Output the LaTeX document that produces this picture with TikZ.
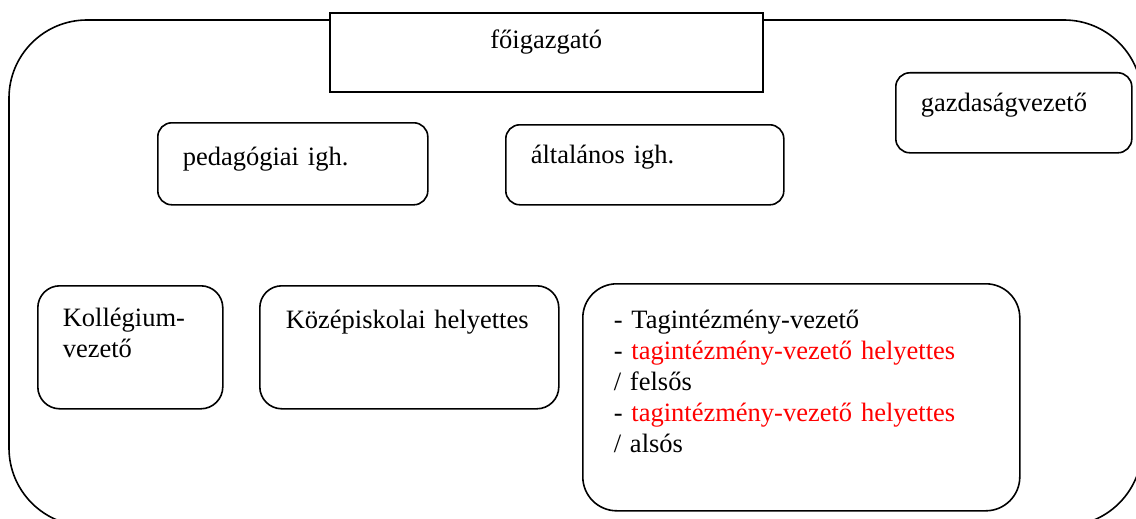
\documentclass[tikz,border=0pt]{standalone}
\usepackage{fontspec}
\setmainfont{Liberation Serif}
\begin{document}
\begin{tikzpicture}[x=1pt, y=-1pt,
    doboz/.style={draw, line width=1.6pt, rounded corners=14pt, anchor=north west,
      align=left, inner ysep=0pt, inner xsep=25pt,
      font=\fontsize{26.5}{31}\selectfont},
    keret/.style={draw, line width=1.6pt, rounded corners=78pt}]
    \useasboundingbox (0,0) rectangle (1136,519);
    \clip (0,0) rectangle (1136,519);
    % Külső keret
    \draw[keret] (9,20) rectangle (1142,526);
    % Főigazgató - felül, szögletes
    \node at (329,12) (foig) [doboz, rounded corners=0pt, fill=white, align=center,
      inner xsep=0pt, text width=433pt, text height=36pt, text depth=43pt] {főigazgató};
    % Felső sor
    \node at (157,122) (ped) [doboz, text width=220pt, text height=43pt, text depth=39pt] {pedagógiai igh.};
    \node at (505,124) (alt) [doboz, text width=228pt, text height=39pt, text depth=41pt] {általános igh.};
    \node at (895,72) (gazd) [doboz, text width=186pt, text height=39pt, text depth=41pt] {gazdaságvezető};
    % Alsó sor
    \node at (37,285) (koll) [doboz, rounded corners=22pt, text width=135pt,
      text height=41pt, text depth=82pt] {Kollégium-\\vezető};
    \node at (259,285) (koz) [doboz, rounded corners=22pt, inner xsep=26pt, text width=247pt,
      text height=43pt, text depth=80pt] {Középiskolai helyettes};
    \node at (582,283) (tag) [doboz, rounded corners=34pt, inner xsep=31pt, text width=375pt,
      text height=45pt, text depth=182pt]
      {- Tagintézmény-vezető\\
       - \textcolor{red}{tagintézmény-vezető helyettes}\\
       / felsős\\
       - \textcolor{red}{tagintézmény-vezető helyettes}\\
       / alsós};
\end{tikzpicture}
\end{document}
